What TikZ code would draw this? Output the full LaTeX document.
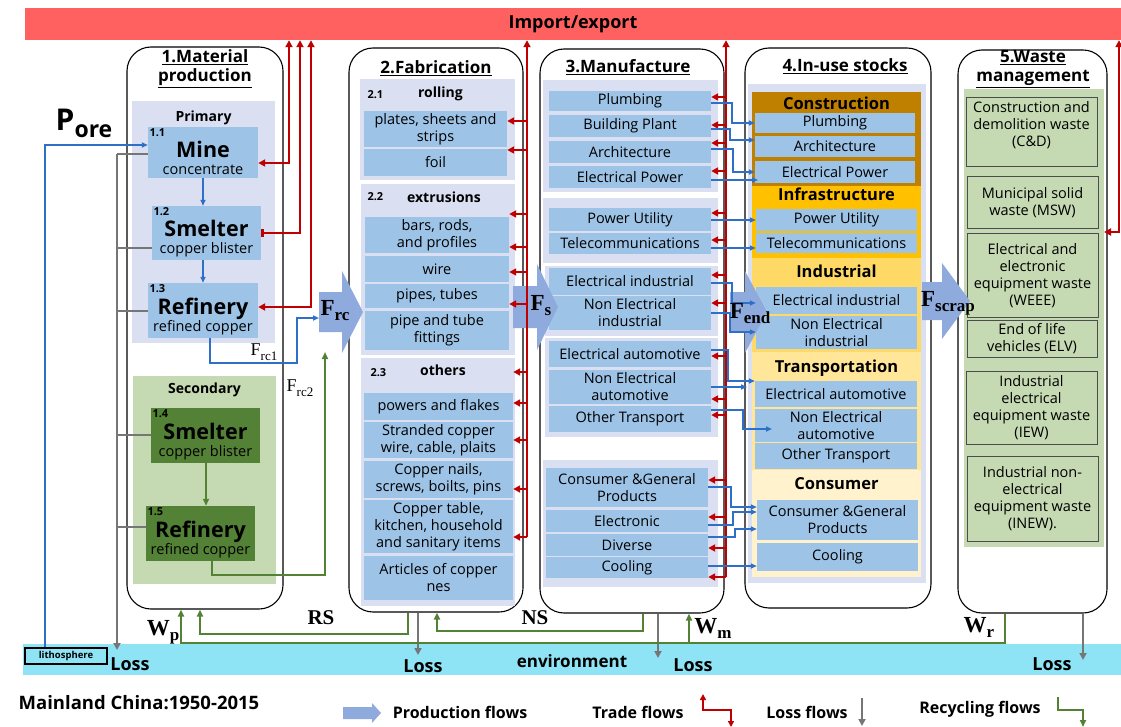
\documentclass[tikz,border=0pt]{standalone}
\usepackage{fontspec}
\setmainfont{Open Sans}
\newfontfamily\timesfont{Liberation Serif}
\usetikzlibrary{arrows.meta}

\definecolor{lavender}{RGB}{218,224,242}
\definecolor{cellblue}{RGB}{157,195,230}
\definecolor{prodblue}{RGB}{143,170,220}
\definecolor{tradered}{RGB}{192,0,0}
\definecolor{flowblue}{RGB}{46,112,200}
\definecolor{recgreen}{RGB}{84,130,53}
\definecolor{darkgreen}{RGB}{83,129,53}
\definecolor{sage}{RGB}{197,217,178}
\definecolor{envcyan}{RGB}{142,227,245}
\definecolor{importred}{RGB}{255,97,97}
\definecolor{lossgray}{RGB}{118,118,118}
\definecolor{constr}{RGB}{191,128,0}
\definecolor{infra}{RGB}{255,192,0}
\definecolor{indus}{RGB}{255,217,102}
\definecolor{transp}{RGB}{255,230,153}
\definecolor{consum}{RGB}{255,242,204}

\newcommand\fsz[1]{\fontsize{#1}{#1}\selectfont}
\newcommand\bodyfont{\fontsize{14.5}{17}\selectfont}
% box from its corners: [options]{name}{x1}{y1}{x2}{y2}{text}
\newcommand\cell[7][]{\node[#1,minimum width={#5-#3},minimum height={#6-#4}] (#2) at ({(#3+#5)/2},{(#4+#6)/2}) {#7};}
\newcommand\proc[2]{\rule{0pt}{28pt}{\fsz{21.5}\bfseries #1}\\[0pt]#2}
\newcommand\flow[2]{{\timesfont\bfseries\fsz{23}#1\raisebox{-5pt}{\fsz{17}#2}}}

\begin{document}
\begin{tikzpicture}[x=1pt, y=-1pt,
  column/.style={draw, line width=1.1pt, rounded corners=24pt},
  panel/.style={fill=lavender, inner sep=0pt},
  cellbox/.style={fill=cellblue, align=center, font=\bodyfont, inner sep=0pt},
  wastebox/.style={draw=black!70, line width=1pt, align=center, font=\bodyfont, inner sep=0pt},
  num/.style={anchor=north west, inner sep=1.5pt, font=\bfseries\fsz{11}},
  header/.style={anchor=north, inner sep=0pt, font=\bfseries\fsz{14}},
  stockhead/.style={anchor=north, inner sep=0pt, font=\bfseries\fsz{16.5}},
  title/.style={font=\bfseries\fontsize{17}{19}\selectfont, align=center, inner sep=0pt},
  lossl/.style={font=\bfseries\fsz{18}, inner sep=0pt},
  legend/.style={font=\bfseries\fsz{16}, inner sep=0pt},
  trade/.style={tradered, line width=2.3pt, -{Triangle[length=7pt,width=7pt]}},
  both/.style={{Triangle[length=7pt,width=7pt]}-{Triangle[length=7pt,width=7pt]}},
  flowline/.style={flowblue, line width=1.6pt, -{Triangle[length=6pt,width=5pt]}},
  lossline/.style={lossgray, line width=2.4pt},
  loss/.style={lossline, -{Triangle[length=7pt,width=7pt]}},
  recyc/.style={recgreen, line width=2.2pt, -{Triangle[length=7pt,width=6pt]}}]

  \useasboundingbox (0,0) rectangle (1121,727);

  \cell[fill=importred, font=\bfseries\fsz{18}, inner sep=0pt]{imp}{25}{8}{1121}{40}{Import/export}
  \cell[fill=envcyan]{env}{23}{644}{1121}{675}{}
  \cell[draw, line width=1.8pt, font=\bfseries\fsz{9.5}, inner sep=0pt]{litho}{25}{648}{107}{664}{lithosphere}

  % 1. material production
  \cell[column]{c1}{127}{47}{283}{609}{}
  \cell[panel, label={[header,yshift=-10pt]north:Primary}]{prim}{132}{101}{275}{343}{}
  \cell[cellbox, label={[num]north west:1.1}]{mine}{148}{127}{258}{178}{\proc{Mine}{concentrate}}
  \cell[cellbox, label={[num]north west:1.2}]{smelt}{152}{206}{261}{260}{\proc{Smelter}{copper blister}}
  \cell[cellbox, label={[num]north west:1.3}]{refin}{148}{283}{258}{338}{\proc{Refinery}{refined copper}}
  \cell[panel, fill=sage, label={[header,yshift=-7pt]north:Secondary}]{sec}{133}{376}{276}{584}{}
  \cell[cellbox, fill=darkgreen, label={[num]north west:1.4}]{smelt2}{151}{408}{260}{463}{\proc{Smelter}{copper blister}}
  \cell[cellbox, fill=darkgreen, label={[num]north west:1.5}]{refin2}{146}{506}{255}{561}{\proc{Refinery}{refined copper}}

  % 2. fabrication
  \cell[column]{c2}{349}{48}{523}{612}{}
  \cell[panel, label={[num,xshift=6pt,yshift=-10pt]north west:2.1}, label={[header,xshift=3pt,yshift=-8pt]north:rolling}]{p21}{360}{79}{515}{180}{}
  \cell[cellbox]{plates}{364}{111}{507}{147}{plates, sheets and\\strips}
  \cell[cellbox]{foil}{364}{149}{507}{176}{foil}
  \cell[panel, label={[num,xshift=5pt,yshift=-7pt]north west:2.2}, label={[header,xshift=6pt,yshift=-8pt]north:extrusions}]{p22}{361}{184}{515}{355}{}
  \cell[cellbox]{bars}{365}{217}{509}{253}{bars, rods,\\and profiles}
  \cell[cellbox]{wire}{365}{256}{509}{282}{wire}
  \cell[cellbox]{pipes}{365}{284}{509}{308}{pipes, tubes}
  \cell[cellbox]{fittings}{365}{311}{509}{350}{pipe and tube\\fittings}
  \cell[panel, label={[num,xshift=8pt,yshift=-9pt]north west:2.3}, label={[header,xshift=5pt,yshift=-7pt]north:others}]{p23}{361}{358}{515}{606}{}
  \cell[cellbox]{powders}{364}{393}{513}{420}{powers and flakes}
  \cell[cellbox]{strand}{364}{422}{513}{458}{Stranded copper\\wire, cable, plaits}
  \cell[cellbox]{nails}{364}{461}{513}{498}{Copper nails,\\screws, boilts, pins}
  \cell[cellbox]{table}{364}{500}{513}{553}{Copper table,\\kitchen, household\\and sanitary items}
  \cell[cellbox]{articles}{364}{556}{513}{600}{Articles of copper\\nes}

  % 3. manufacture
  \cell[column]{c3}{540}{49}{724}{613}{}
  \cell[panel]{g3a}{543}{80}{718}{192}{}
  \cell[cellbox]{mplumb}{549}{91}{711}{111}{Plumbing}
  \cell[cellbox]{mbuild}{549}{115}{711}{137}{Building Plant}
  \cell[cellbox]{march}{549}{141}{711}{163}{Architecture}
  \cell[cellbox]{mpower}{549}{166}{711}{188}{Electrical Power}
  \cell[panel]{g3b}{543}{198}{718}{263}{}
  \cell[cellbox]{mutil}{549}{208}{711}{231}{Power Utility}
  \cell[cellbox]{mtele}{549}{233}{711}{254}{Telecommunications}
  \cell[panel]{g3c}{545}{266}{718}{336}{}
  \cell[cellbox]{meind}{549}{268}{711}{295}{Electrical industrial}
  \cell[cellbox]{mneind}{549}{296}{711}{330}{Non Electrical\\industrial}
  \cell[panel]{g3d}{545}{338}{718}{437}{}
  \cell[cellbox]{meauto}{549}{341}{711}{367}{Electrical automotive}
  \cell[cellbox]{mneauto}{549}{370}{711}{404}{Non Electrical\\automotive}
  \cell[cellbox]{mother}{549}{406}{711}{432}{Other Transport}
  \cell[panel]{g3e}{543}{460}{718}{587}{}
  \cell[cellbox]{mcons}{546}{468}{708}{507}{Consumer \&General\\Products}
  \cell[cellbox]{melec}{546}{510}{708}{532}{Electronic}
  \cell[cellbox]{mdiv}{546}{534}{708}{556}{Diverse}
  \cell[cellbox]{mcool}{546}{557}{708}{578}{Cooling}

  % 4. in-use stocks
  \cell[column]{c4}{745}{48}{931}{608}{}
  \cell[panel]{stk}{748}{84}{926}{583}{}
  \cell[panel, fill=constr, label={[stockhead,yshift=-5pt]north:Construction}]{pconst}{752}{92}{921}{186}{}
  \cell[cellbox]{splumb}{755}{113}{915}{133}{Plumbing}
  \cell[cellbox]{sarch}{755}{136}{915}{157}{Architecture}
  \cell[cellbox]{spower}{755}{161}{915}{183}{Electrical Power}
  \cell[panel, fill=infra, label={[stockhead,yshift=-2pt]north:Infrastructure}]{pinfra}{752}{186}{921}{258}{}
  \cell[cellbox]{sutil}{756}{209}{917}{231}{Power Utility}
  \cell[cellbox]{stele}{756}{233}{917}{253}{Telecommunications}
  \cell[panel, fill=indus, label={[stockhead,yshift=-7pt]north:Industrial}]{pind}{752}{258}{921}{352}{}
  \cell[cellbox]{seind}{756}{287}{917}{314}{Electrical industrial}
  \cell[cellbox]{sneind}{756}{316}{917}{349}{Non Electrical\\industrial}
  \cell[panel, fill=transp, label={[stockhead,yshift=-8pt]north:Transportation}]{ptrans}{752}{352}{921}{470}{}
  \cell[cellbox]{seauto}{755}{381}{917}{407}{Electrical automotive}
  \cell[cellbox]{sneauto}{755}{409}{917}{442}{Non Electrical\\automotive}
  \cell[cellbox]{sother}{755}{443}{917}{469}{Other Transport}
  \cell[panel, fill=consum, label={[stockhead,yshift=-8pt]north:Consumer}]{pcons}{752}{470}{921}{577}{}
  \cell[cellbox]{scons}{757}{500}{918}{540}{Consumer \&General\\Products}
  \cell[cellbox]{scool}{757}{543}{918}{571}{Cooling}

  % 5. waste management
  \cell[column]{c5}{958}{50}{1107}{613}{}
  \cell[panel, fill=sage]{pwaste}{964}{89}{1104}{547}{}
  \cell[wastebox]{wcd}{966}{98}{1097}{167}{Construction and\\demolition waste\\(C\&D)\\\mbox{}}
  \cell[wastebox]{wmsw}{967}{177}{1098}{229}{Municipal solid\\waste (MSW)}
  \cell[wastebox]{wweee}{967}{234}{1098}{317}{Electrical and\\electronic\\equipment waste\\(WEEE)}
  \cell[wastebox]{welv}{967}{320}{1097}{357}{End of life\\vehicles (ELV)}
  \cell[wastebox]{wiew}{966}{371}{1097}{444}{Industrial\\electrical\\equipment waste\\(IEW)}
  \cell[wastebox]{winew}{967}{456}{1098}{541}{Industrial non-\\electrical\\equipment waste\\(INEW).}

  \node[title] (t1) at (205,69) {\underline{1.Material}\\\underline{production}};
  \node[title] (t2) at (436,68) {\underline{2.Fabrication}};
  \node[title] (t3) at (628,67) {\underline{3.Manufacture}};
  \node[title] (t4) at (845,66) {\underline{4.In-use stocks}};
  \node[title] (t5) at (1033,69) {\underline{5.Waste}\\\underline{management}};

  % production arrows
  \foreach \a/\b/\c/\m/\s/\h in {319/342/363/312/20/41, 513/537/558/307/21/43,
      730/745/767/312/20/41, 922/942/970/301/19/38, 343/372/381/713/6/10}
    \fill[prodblue] (\a,\m-\s) -- (\b,\m-\s) -- (\b,\m-\h) -- (\c,\m)
      -- (\b,\m+\h) -- (\b,\m+\s) -- (\a,\m+\s) -- cycle;

  % trade flows
  \draw[trade, both] (imp.south -| 289,0) |- (mine.east |- 0,163);
  \draw[trade, {Triangle[length=7pt,width=7pt]}-{Bar[width=8pt]}] (imp.south -| 300,0) |- (smelt.east |- 0,233);
  \draw[trade, both] (imp.south -| 311,0) |- (refin.east |- 0,307);
  \draw[trade, both] (imp.south -| 1119,0) |- (1104,232);
  \draw[trade] (527,537) -- (imp.south -| 527,0);
  \foreach \n/\y in {plates/121, foil/150, bars/214, bars/247, wire/272, pipes/304,
      powders/372, powders/403, strand/440, nails/489, table/537}
    \draw[trade] (527,\y) -- (\n.east |- 0,\y);
  \draw[trade] (726,577) -- (imp.south -| 726,0);
  \foreach \n/\y in {mplumb/97, mbuild/125, march/143, mpower/171, mutil/213, mtele/240,
      meind/275, mneind/303, meauto/356, mneauto/399, mother/415, mcons/480,
      melec/517, mdiv/548, mcool/577}
    \draw[trade] (726,\y) -- (\n.east |- 0,\y);

  % production lines
  \draw[flowline, line width=2pt] (litho.north -| 45,0) |- (mine.west |- 0,145);
  \draw[flowline, line width=2pt] (203,0 |- mine.south) -- (203,0 |- smelt.north);
  \draw[flowline, line width=2pt] (203,0 |- smelt.south) -- (203,0 |- refin.north);
  \draw[flowline, line width=2pt] (refin.south -| 210,0) |- (297,363) |- (319,318);
  \draw[recyc, line width=2pt] (206,0 |- smelt2.south) -- (206,0 |- refin2.north);
  \draw[recyc, line width=2pt] (refin2.south -| 212,0) |- (325,575) -- (325,352);

  \draw[flowline] (mplumb.east |- 0,103) -| (732,123) -- (splumb.west |- 0,123);
  \draw[flowline] (mbuild.east |- 0,129) -| (730,140) -- (sarch.west |- 0,140);
  \draw[flowline] (march.east |- 0,149) -| (733,172) -- (spower.west |- 0,172);
  \draw[flowline] (mpower.east |- 0,180) -- (758,180);
  \draw[flowline] (mutil.east |- 0,220) -- (sutil.west |- 0,220);
  \draw[flowline] (mtele.east |- 0,248) -- (stele.west |- 0,248);
  \draw[flowline] (meind.east |- 0,283) -| (732,303) -- (seind.west |- 0,303);
  \draw[flowline] (mneind.east |- 0,313) -| (730,332) -- (sneind.west |- 0,332);
  \draw[flowline] (meauto.east |- 0,350) -| (728,381) -- (seauto.west |- 0,381);
  \draw[flowline] (mneauto.east |- 0,387) -- (747,387);
  \draw[flowline] (mother.east |- 0,410) -| (743,429) -- (772,429);
  \draw[flowline] (mcons.east |- 0,487) -| (731,507) -- (scons.west |- 0,507);
  \draw[flowline] (melec.east |- 0,525) -| (733,512) -- (scons.west |- 0,512);
  \draw[flowline] (mdiv.east |- 0,537) -| (735,529) -- (scons.west |- 0,529);
  \draw[flowline] (mcool.east |- 0,566) -- (scool.west |- 0,566);

  % losses
  \draw[loss] (117,154) -- (117,650);
  \foreach \n/\y in {mine/154, smelt/248, refin/311, smelt2/435, refin2/527}
    \draw[lossline] (117,\y) -- (\n.west |- 0,\y);
  \draw[loss] (c2.south -| 418,0) -- (418,655);
  \draw[loss] (c3.south -| 658,0) -- (658,658);
  \draw[loss] (c5.south -| 1083,0) -- (1083,660);

  % recycling
  \draw[recyc] (c2.south -| 408,0) |- (200,634) -- (200,0 |- c1.south);
  \draw[recyc] (c3.south -| 643,0) |- (437,631) -- (437,0 |- c2.south);
  \draw[recyc] (c5.south -| 1005,0) |- (181,643) -- (181,0 |- c1.south);
  \draw[recyc] (689,643) -- (689,0 |- c3.south);

  % flow labels
  \node (frc) at (335,311) {\flow{F}{rc}};
  \node (fs) at (541,306) {\flow{F}{s}};
  \node (fend) at (750,314) {\flow{F}{end}};
  \node (fscrap) at (948,303) {\flow{F}{scrap}};
  \node[font=\timesfont\fsz{18}] (frc1) at (264,352) {F\raisebox{-5pt}{\fsz{13}rc1}};
  \node[font=\timesfont\fsz{18}] (frc2) at (300,388) {F\raisebox{-5pt}{\fsz{13}rc2}};
  \node[font=\bfseries] (pore) at (84,123) {\fsz{30}P\raisebox{-7pt}{\fsz{23}ore}};
  \node (wp) at (163,632) {\flow{W}{p}};
  \node (wm) at (713,628) {\flow{W}{m}};
  \node (wr) at (979,627) {\flow{W}{r}};
  \node[font=\timesfont\bfseries\fsz{21}] (rs) at (321,618) {RS};
  \node[font=\timesfont\bfseries\fsz{21}] (ns) at (535,618) {NS};

  \node[lossl] (loss1) at (130,664) {Loss};
  \node[lossl] (loss2) at (423,666) {Loss};
  \node[lossl] (loss3) at (693,665) {Loss};
  \node[lossl] (loss4) at (1052,664) {Loss};
  \node[font=\bfseries\fsz{17}, inner sep=0pt] (envl) at (572,661) {environment};

  % legend
  \node[font=\bfseries\fsz{18.5}, inner sep=0pt] (region) at (139,703) {Mainland China:1950-2015};
  \node[legend] (lprod) at (460,712) {Production flows};
  \node[legend] (ltrade) at (638,712) {Trade flows};
  \draw[tradered, line width=1.6pt, {Triangle[length=6pt,width=6pt]}-{Triangle[length=6pt,width=6pt]}] (703,694) |- (731,710) -- (731,727);
  \node[legend] (lloss) at (807,712) {Loss flows};
  \draw[loss, line width=2pt] (862,698) -- (862,726);
  \node[legend] (lrec) at (980,709) {Recycling flows};
  \draw[recyc, line width=1.6pt] (1058,697) |- (1083,710) -- (1083,727);
\end{tikzpicture}
\end{document}
